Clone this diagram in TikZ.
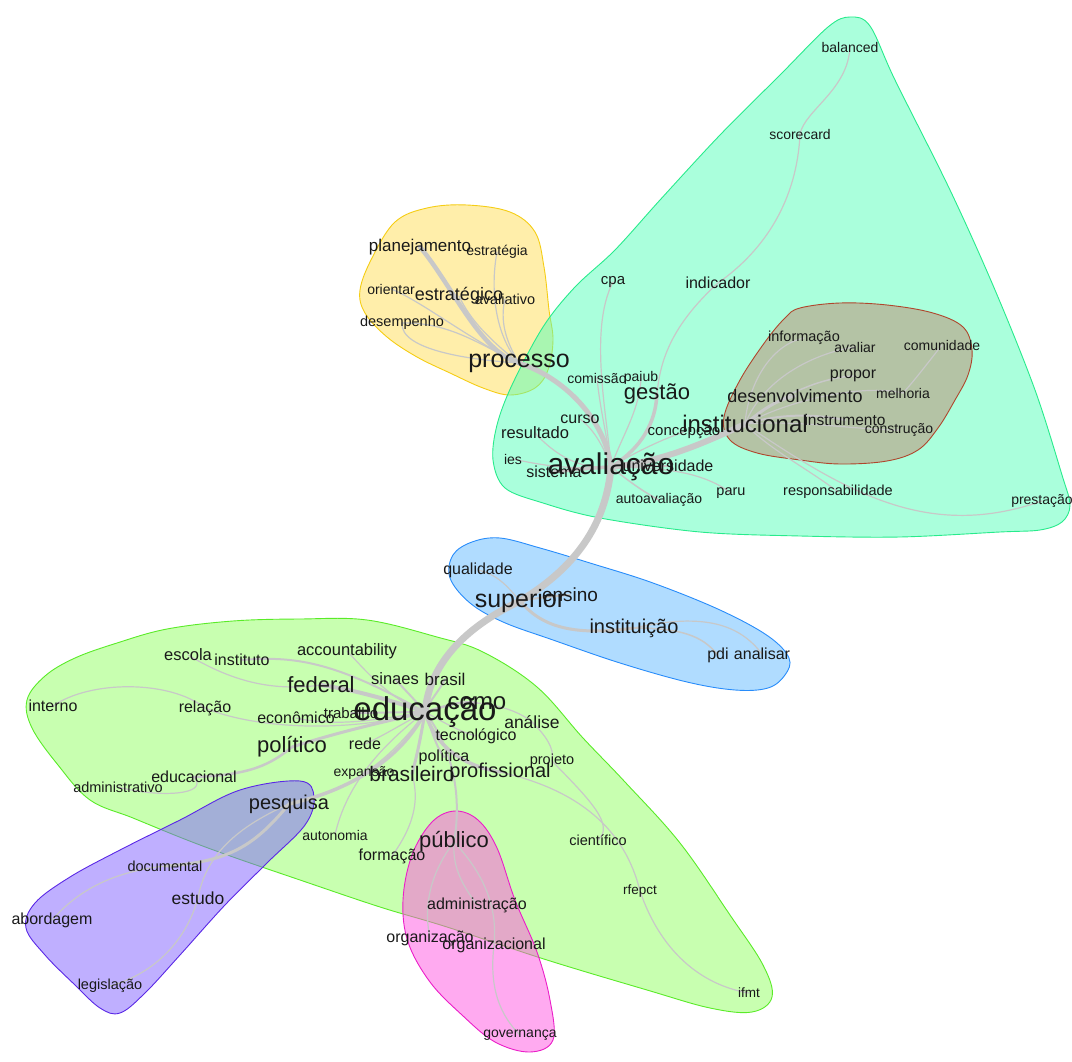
\documentclass[tikz,border=0pt]{standalone}
\usepackage{fontspec}
\setmainfont{Liberation Sans}
\usetikzlibrary{backgrounds}
\definecolor{linkgray}{RGB}{200,200,200}
\definecolor{wordcol}{RGB}{25,25,25}
\definecolor{limefill}{RGB}{145,255,97}
\definecolor{limeline}{RGB}{90,235,40}
\definecolor{purplefill}{RGB}{128,96,255}
\definecolor{purpleline}{RGB}{90,40,230}
\definecolor{pinkfill}{RGB}{255,85,225}
\definecolor{pinkline}{RGB}{235,30,200}
\definecolor{yellowfill}{RGB}{255,221,85}
\definecolor{yellowline}{RGB}{245,205,20}
\definecolor{aquafill}{RGB}{85,255,185}
\definecolor{aqualine}{RGB}{40,235,140}
\definecolor{brownfill}{RGB}{190,135,110}
\definecolor{brownline}{RGB}{175,70,45}
\definecolor{bluefill}{RGB}{97,185,255}
\definecolor{blueline}{RGB}{40,140,250}

\begin{document}
\begin{tikzpicture}[x=1pt,y=-1pt,
  wd/.style={font=\fontsize{#1}{#1}\selectfont,inner sep=0pt,text=wordcol},
  lk/.style={draw=linkgray,line width=#1,line cap=round},
  blob/.style 2 args={fill=#1,fill opacity=0.5,draw=#2,line width=0.9pt}]
\useasboundingbox (0,0) rectangle (1072,1062);

\node[wd=17] (planejamento) at (420,247) {planejamento};
\node[wd=14] (estrategia) at (497,252) {estratégia};
\node[wd=14] (orientar) at (391,289) {orientar};
\node[wd=18] (estrategico) at (459,296) {estratégico};
\node[wd=14.5] (avaliativo) at (505,299) {avaliativo};
\node[wd=14.5] (desempenho) at (402,323) {desempenho};
\node[wd=25] (processo) at (519,363) {processo};

\node[wd=14] (balanced) at (850,47) {balanced};
\node[wd=14] (scorecard) at (800,134) {scorecard};
\node[wd=15] (cpa) at (613,282) {cpa};
\node[wd=16] (indicador) at (718,283) {indicador};
\node[wd=14] (comissao) at (597,378) {comissão};
\node[wd=14] (paiub) at (641,378) {paiub};
\node[wd=22] (gestao) at (657,394) {gestão};
\node[wd=16] (curso) at (580,419) {curso};
\node[wd=16.5] (resultado) at (535,433) {resultado};
\node[wd=15] (concepcao) at (684,432) {concepção};
\node[wd=24] (institucional) at (745,424) {institucional};
\node[wd=14] (ies) at (513,459) {ies};
\node[wd=16] (sistema) at (554,472) {sistema};
\node[wd=16] (universidade) at (668,466) {universidade};
\node[wd=30] (avaliacao) at (611,467) {avaliação};
\node[wd=14] (autoavaliacao) at (659,500) {autoavaliação};
\node[wd=14.5] (paru) at (731,493) {paru};
\node[wd=14.5] (responsabilidade) at (838,492) {responsabilidade};
\node[wd=14] (prestacao) at (1042,501) {prestação};

\node[wd=14.5] (informacao) at (804,338) {informação};
\node[wd=14] (avaliar) at (855,347) {avaliar};
\node[wd=14] (comunidade) at (942,345) {comunidade};
\node[wd=16] (propor) at (853,376) {propor};
\node[wd=18] (desenvolvimento) at (795,396) {desenvolvimento};
\node[wd=14] (melhoria) at (903,393) {melhoria};
\node[wd=15.5] (instrumento) at (845,420) {instrumento};
\node[wd=14] (construcao) at (899,430) {construção};

\node[wd=16] (qualidade) at (478,570) {qualidade};
\node[wd=25] (superior) at (520,601) {superior};
\node[wd=19] (ensino) at (570,595) {ensino};
\node[wd=20] (instituicao) at (634,628) {instituição};
\node[wd=16] (pdi) at (718,655) {pdi};
\node[wd=16] (analisar) at (762,654) {analisar};

\node[wd=16.5] (escola) at (188,655) {escola};
\node[wd=16] (instituto) at (242,660) {instituto};
\node[wd=16.5] (accountability) at (347,651) {accountability};
\node[wd=16.5] (sinaes) at (395,679) {sinaes};
\node[wd=17] (brasil) at (445,679) {brasil};
\node[wd=22] (federal) at (321,685) {federal};
\node[wd=16] (interno) at (53,706) {interno};
\node[wd=16] (relacao) at (205,708) {relação};
\node[wd=16] (economico) at (296,718) {econômico};
\node[wd=15] (trabalho) at (351,713) {trabalho};
\node[wd=24] (como) at (477,703) {como};
\node[wd=33] (educacao) at (425,712) {educação};
\node[wd=17.5] (analise) at (532,722) {análise};
\node[wd=16] (tecnologico) at (476,736) {tecnológico};
\node[wd=22] (politico) at (292,747) {político};
\node[wd=16] (rede) at (365,744) {rede};
\node[wd=16] (politica) at (444,757) {política};
\node[wd=14.5] (projeto) at (552,761) {projeto};
\node[wd=14] (expansao) at (364,773) {expansão};
\node[wd=21] (brasileiro) at (412,774) {brasileiro};
\node[wd=20] (profissional) at (500,772) {profissional};
\node[wd=16] (educacional) at (194,777) {educacional};
\node[wd=14.5] (administrativo) at (118,787) {administrativo};
\node[wd=20] (pesquisa) at (289,804) {pesquisa};
\node[wd=14] (autonomia) at (335,835) {autonomia};
\node[wd=16] (formacao) at (392,856) {formação};
\node[wd=22] (publico) at (454,842) {público};
\node[wd=14.5] (cientifico) at (598,840) {científico};
\node[wd=14.5] (documental) at (165,866) {documental};
\node[wd=17.5] (estudo) at (198,898) {estudo};
\node[wd=13.5] (rfepct) at (640,891) {rfepct};
\node[wd=16] (administracao) at (477,905) {administração};
\node[wd=16] (organizacao) at (430,938) {organização};
\node[wd=16] (organizacional) at (494,945) {organizacional};
\node[wd=16] (abordagem) at (52,920) {abordagem};
\node[wd=13.5] (ifmt) at (749,993) {ifmt};
\node[wd=14.5] (legislacao) at (110,986) {legislação};
\node[wd=14] (governanca) at (520,1035) {governança};

\begin{scope}[on background layer]
\draw[blob={limefill}{limeline}] plot[smooth cycle,tension=0.6] coordinates {(27,700) (45,676) (75,658) (117,643) (167,629) (233,621) (300,619) (367,620) (437,637) (483,652) (537,687) (583,738) (625,782) (680,843) (730,915) (763,965) (772,997) (752,1012) (710,1008) (647,990) (547,960) (447,927) (380,907) (300,880) (233,857) (187,840) (133,818) (90,800) (58,765) (32,728)};
\draw[blob={purplefill}{purpleline}] plot[smooth cycle,tension=0.6] coordinates {(300,781) (314,797) (305,825) (267,863) (225,905) (180,955) (145,993) (120,1013) (100,1008) (75,985) (45,955) (26,928) (35,903) (70,877) (120,850) (180,820) (240,790)};
\draw[blob={pinkfill}{pinkline}] plot[smooth cycle,tension=0.6] coordinates {(455,811) (478,820) (497,848) (515,900) (537,952) (550,1000) (553,1040) (530,1052) (495,1042) (462,1015) (430,982) (408,942) (403,900) (412,855) (432,822)};
\draw[blob={yellowfill}{yellowline}] plot[smooth cycle,tension=0.6] coordinates {(360,290) (372,258) (395,222) (427,208) (467,205) (510,212) (535,232) (544,267) (549,310) (553,340) (548,370) (535,388) (510,395) (483,388) (450,373) (417,357) (387,337) (365,313)};
\draw[blob={aquafill}{aqualine}] plot[smooth cycle,tension=0.55] coordinates {(850,17) (870,26) (895,80) (950,190) (995,290) (1035,390) (1062,475) (1070,505) (1062,522) (1040,530) (1000,532) (900,537) (800,536) (700,532) (600,518) (543,503) (505,488) (493,460) (497,425) (512,385) (543,327) (575,287) (615,250) (660,200) (720,135) (780,75) (828,27)};
\draw[blob={brownfill}{brownline}] plot[smooth cycle,tension=0.6] coordinates {(800,308) (840,303) (887,305) (933,313) (963,327) (972,350) (968,375) (955,400) (938,428) (918,450) (887,461) (840,464) (800,460) (757,453) (730,440) (724,417) (740,380) (765,342) (785,318)};
\draw[blob={bluefill}{blueline}] plot[smooth cycle,tension=0.6] coordinates {(453,555) (472,542) (500,538) (540,548) (590,563) (653,583) (720,610) (768,636) (789,658) (785,675) (768,688) (735,690) (687,682) (620,663) (553,640) (503,622) (470,603) (450,578)};

\draw[lk=4.5] (processo.center) .. controls (480,352) and (452,285) .. (planejamento.center);
\draw[lk=1.2] (processo.center) .. controls (495,335) and (490,290) .. (estrategia.center);
\draw[lk=1.2] (processo.center) .. controls (505,340) and (500,320) .. (avaliativo.center);
\draw[lk=1.2] (processo.center) .. controls (470,340) and (420,300) .. (orientar.center);
\draw[lk=1.2] (processo.center) .. controls (480,345) and (450,322) .. (desempenho.center);
\draw[lk=1.2] (processo.center) .. controls (470,360) and (400,350) .. (desempenho.center);
\draw[lk=1.2] (processo.center) .. controls (490,340) and (470,320) .. (estrategico.center);
\draw[lk=5] (processo.center) .. controls (565,378) and (605,420) .. (avaliacao.center);

\draw[lk=1.2] (balanced.center) .. controls (848,90) and (805,110) .. (scorecard.center);
\draw[lk=1.2] (scorecard.center) .. controls (797,200) and (765,250) .. (indicador.center);
\draw[lk=1.2] (indicador.center) .. controls (672,325) and (660,360) .. (gestao.center);
\draw[lk=1.2] (cpa.center) .. controls (588,330) and (608,420) .. (avaliacao.center);
\draw[lk=1.2] (comissao.center) .. controls (600,410) and (608,440) .. (avaliacao.center);
\draw[lk=1.2] (paiub.center) .. controls (640,410) and (620,440) .. (avaliacao.center);
\draw[lk=3.5] (gestao.center) .. controls (655,430) and (635,452) .. (avaliacao.center);
\draw[lk=1.2] (curso.center) .. controls (595,430) and (605,450) .. (avaliacao.center);
\draw[lk=1.2] (resultado.center) .. controls (555,455) and (580,470) .. (avaliacao.center);
\draw[lk=1.2] (ies.center) .. controls (540,465) and (570,470) .. (avaliacao.center);
\draw[lk=3.5] (sistema.center) .. controls (570,470) and (590,468) .. (avaliacao.center);
\draw[lk=1.2] (concepcao.center) .. controls (660,440) and (630,455) .. (avaliacao.center);
\draw[lk=2] (universidade.center) .. controls (650,466) and (630,466) .. (avaliacao.center);
\draw[lk=1.5] (autoavaliacao.center) .. controls (640,490) and (625,478) .. (avaliacao.center);
\draw[lk=1.2] (paru.center) .. controls (700,470) and (660,468) .. (avaliacao.center);
\draw[lk=6] (institucional.center) .. controls (700,445) and (660,462) .. (avaliacao.center);
\draw[lk=3] (institucional.center) .. controls (760,412) and (775,400) .. (desenvolvimento.center);
\draw[lk=1.2] (institucional.center) .. controls (748,385) and (770,345) .. (informacao.center);
\draw[lk=1.2] (institucional.center) .. controls (765,375) and (820,352) .. (avaliar.center);
\draw[lk=1.5] (institucional.center) .. controls (780,395) and (820,378) .. (propor.center);
\draw[lk=1.2] (institucional.center) .. controls (800,395) and (870,385) .. (melhoria.center);
\draw[lk=2] (institucional.center) .. controls (785,412) and (820,415) .. (instrumento.center);
\draw[lk=1.2] (institucional.center) .. controls (800,420) and (860,430) .. (construcao.center);
\draw[lk=1.2] (melhoria.center) .. controls (915,380) and (930,360) .. (comunidade.center);
\draw[lk=1.2] (institucional.center) .. controls (770,450) and (810,470) .. (responsabilidade.center);
\draw[lk=1.2] (institucional.center) .. controls (850,495) and (930,540) .. (prestacao.center);
\draw[lk=7] (avaliacao.center) .. controls (606,525) and (575,568) .. (superior.center);

\draw[lk=1.2] (superior.center) .. controls (510,590) and (500,575) .. (qualidade.center);
\draw[lk=2] (superior.center) .. controls (535,598) and (555,596) .. (ensino.center);
\draw[lk=3] (superior.center) .. controls (540,625) and (570,637) .. (instituicao.center);
\draw[lk=1.5] (instituicao.center) .. controls (690,628) and (705,640) .. (pdi.center);
\draw[lk=1.2] (instituicao.center) .. controls (705,612) and (740,625) .. (analisar.center);
\draw[lk=7] (superior.center) .. controls (470,625) and (430,660) .. (educacao.center);

\draw[lk=4] (federal.center) .. controls (355,690) and (390,700) .. (educacao.center);
\draw[lk=2] (sinaes.center) .. controls (405,690) and (415,700) .. (educacao.center);
\draw[lk=2] (brasil.center) .. controls (440,690) and (430,700) .. (educacao.center);
\draw[lk=1.2] (accountability.center) .. controls (365,670) and (390,700) .. (educacao.center);
\draw[lk=2] (instituto.center) .. controls (300,655) and (340,665) .. (educacao.center);
\draw[lk=1.2] (escola.center) .. controls (230,680) and (270,692) .. (federal.center);
\draw[lk=2.5] (como.center) .. controls (460,700) and (440,708) .. (educacao.center);
\draw[lk=1.2] (como.center) .. controls (500,705) and (520,712) .. (analise.center);
\draw[lk=2] (trabalho.center) .. controls (375,713) and (400,712) .. (educacao.center);
\draw[lk=1.2] (economico.center) .. controls (340,728) and (385,718) .. (educacao.center);
\draw[lk=3] (politico.center) .. controls (345,730) and (385,722) .. (educacao.center);
\draw[lk=1.2] (relacao.center) .. controls (250,727) and (340,735) .. (educacao.center);
\draw[lk=1.2] (interno.center) .. controls (90,680) and (170,680) .. (relacao.center);
\draw[lk=2.5] (politico.center) .. controls (270,765) and (250,775) .. (educacional.center);
\draw[lk=1.2] (administrativo.center) .. controls (160,798) and (210,795) .. (educacional.center);
\draw[lk=1.2] (rede.center) .. controls (385,735) and (405,722) .. (educacao.center);
\draw[lk=1.2] (tecnologico.center) .. controls (455,730) and (440,720) .. (educacao.center);
\draw[lk=2] (politica.center) .. controls (435,745) and (430,725) .. (educacao.center);
\draw[lk=3] (brasileiro.center) .. controls (418,752) and (422,730) .. (educacao.center);
\draw[lk=3.5] (profissional.center) .. controls (460,765) and (435,745) .. (educacao.center);
\draw[lk=1.2] (expansao.center) .. controls (385,760) and (410,735) .. (educacao.center);
\draw[lk=3.5] (pesquisa.center) .. controls (360,788) and (405,752) .. (educacao.center);
\draw[lk=1.2] (autonomia.center) .. controls (345,790) and (375,750) .. (educacao.center);
\draw[lk=1.2] (formacao.center) .. controls (418,820) and (418,795) .. (brasileiro.center);
\draw[lk=2] (publico.center) .. controls (463,790) and (450,745) .. (educacao.center);
\draw[lk=1.2] (analise.center) .. controls (545,735) and (555,748) .. (projeto.center);
\draw[lk=1.2] (projeto.center) .. controls (590,800) and (615,825) .. (cientifico.center);
\draw[lk=1.2] (profissional.center) .. controls (580,790) and (625,830) .. (rfepct.center);
\draw[lk=1.2] (rfepct.center) .. controls (660,950) and (700,985) .. (ifmt.center);

\draw[lk=3] (pesquisa.center) .. controls (255,845) and (230,862) .. (documental.center);
\draw[lk=1.2] (documental.center) .. controls (100,873) and (70,900) .. (abordagem.center);
\draw[lk=1.2] (pesquisa.center) .. controls (230,830) and (205,860) .. (estudo.center);
\draw[lk=1.2] (estudo.center) .. controls (185,945) and (150,975) .. (legislacao.center);
\draw[lk=1.2] (publico.center) .. controls (452,870) and (465,888) .. (administracao.center);
\draw[lk=1.2] (publico.center) .. controls (425,880) and (425,915) .. (organizacao.center);
\draw[lk=1.2] (publico.center) .. controls (490,880) and (497,915) .. (organizacional.center);
\draw[lk=1.2] (organizacional.center) .. controls (490,980) and (495,1010) .. (governanca.center);
\end{scope}
\end{tikzpicture}
\end{document}
